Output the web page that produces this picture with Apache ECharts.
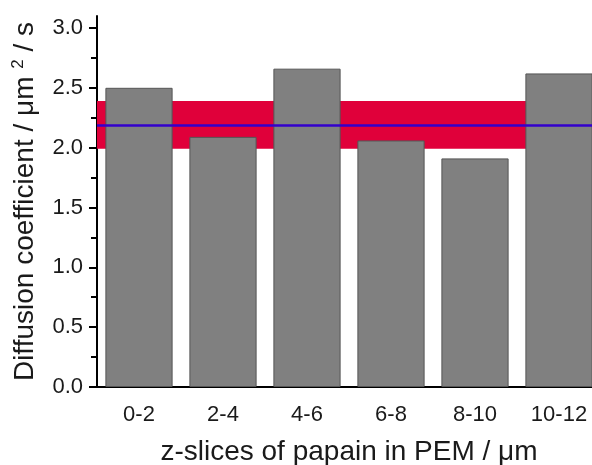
<!DOCTYPE html>
<html>
<head>
<meta charset="utf-8">
<script src="https://cdn.jsdelivr.net/npm/echarts@6/dist/echarts.min.js"></script>
<style>html,body{margin:0;padding:0;background:#fff}#c{width:592px;height:465px}</style>
</head>
<body>
<div id="c"></div>
<script>
const categories = ['0-2', '2-4', '4-6', '6-8', '8-10', '10-12'];
const diffusion = [2.50, 2.09, 2.66, 2.06, 1.91, 2.62];
const bandLow = 1.99;
const bandHigh = 2.39;
const meanValue = 2.19;
const yMajorTicks = [0, 0.5, 1.0, 1.5, 2.0, 2.5, 3.0];
const yMinorTicks = [0.25, 0.75, 1.25, 1.75, 2.25, 2.75];

const font = 'Arial, "Liberation Sans", sans-serif';
const txt = '#1a1a1a';
const chart = echarts.init(document.getElementById('c'), null, {renderer: 'canvas'});
chart.setOption({
  animation: false,
  backgroundColor: '#fff',
  grid: {left: 97, right: -9, top: 16, bottom: 78, containLabel: false, outerBoundsMode: 'none'},
  xAxis: [{
    type: 'category', data: categories, position: 'bottom',
    axisLine: {lineStyle: {color: '#000', width: 2}},
    axisTick: {alignWithLabel: true, length: 6, lineStyle: {color: '#000', width: 2}},
    axisLabel: {color: txt, fontSize: 22, fontFamily: font, margin: 17},
    name: 'z-slices of papain in PEM / μm', nameLocation: 'middle', nameGap: 51,
    nameTextStyle: {color: txt, fontSize: 28, fontFamily: font}
  }, {
    type: 'category', data: categories, position: 'bottom',
    axisLine: {show: false},
    axisTick: {length: 4, lineStyle: {color: '#000', width: 2}},
    axisLabel: {show: false}
  }],
  yAxis: [{
    type: 'value', min: 0, max: 3.1,
    axisLine: {show: true, lineStyle: {color: '#000', width: 2}},
    axisTick: {show: true, length: 8, customValues: yMajorTicks, lineStyle: {color: '#000', width: 2}},
    axisLabel: {customValues: yMajorTicks, color: txt, fontSize: 22, fontFamily: font, margin: 14,
      formatter: v => v.toFixed(1)},
    splitLine: {show: false},
    name: '{a|Diffusion coefficient / μm }{b|2}{a| / s}', nameLocation: 'middle', nameGap: 56,
    nameTextStyle: {color: txt, fontSize: 28, fontFamily: font,
      rich: {a: {color: txt, fontSize: 28, fontFamily: font},
             b: {color: txt, fontSize: 17, fontFamily: font, padding: [0, 0, 14, 0]}}}
  }, {
    type: 'value', min: 0, max: 3.1, position: 'left',
    axisLine: {show: false},
    axisTick: {show: true, length: 6, customValues: yMinorTicks, lineStyle: {color: '#000', width: 2}},
    axisLabel: {show: false},
    splitLine: {show: false}
  }],
  series: [{
    type: 'line', data: [], z: 1, silent: true,
    markArea: {silent: true, itemStyle: {color: '#e0003a'}, data: [[{yAxis: bandLow}, {yAxis: bandHigh}]]},
    markLine: {silent: true, symbol: 'none', label: {show: false},
      lineStyle: {color: '#3300cc', width: 2.5, type: 'solid'}, data: [{yAxis: meanValue}]}
  }, {
    type: 'bar', data: diffusion, z: 3, barWidth: '80%',
    itemStyle: {color: '#808080', borderColor: '#555', borderWidth: 1}
  }]
});
</script>
</body>
</html>
